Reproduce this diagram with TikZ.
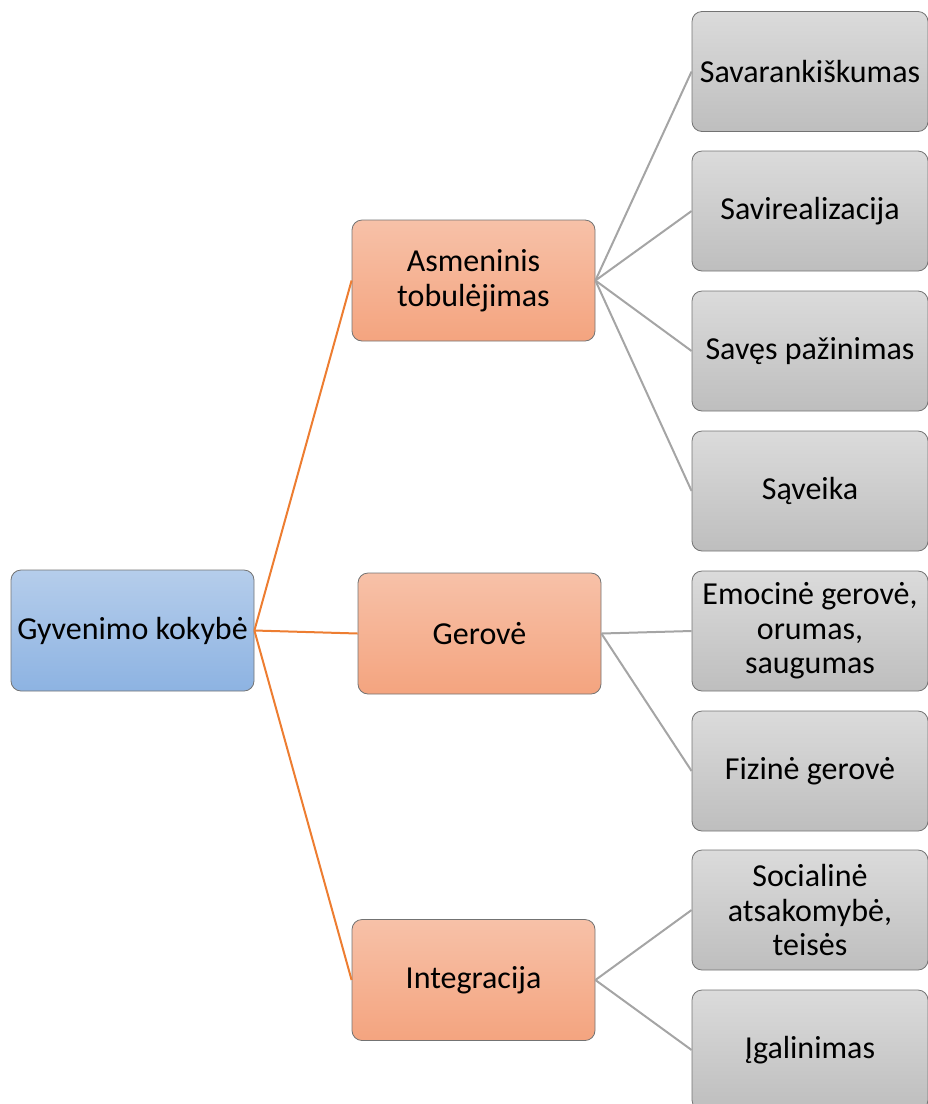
\documentclass[tikz,border=0pt]{standalone}
\usepackage{fontspec}
\setmainfont{Carlito}
\begin{document}
\begin{tikzpicture}[x=1pt,y=-1pt,
  box/.style={draw=black!55, line width=0.8pt, rounded corners=10pt, inner sep=0pt,
    align=center, font=\fontsize{32}{34.5}\selectfont, shading=axis, shading angle=0},
  rootbox/.style={box, minimum width=243pt, minimum height=121pt, top color=rootTop, bottom color=rootBot},
  midbox/.style={box, minimum width=243pt, minimum height=121pt, top color=midTop, bottom color=midBot},
  leafbox/.style={box, minimum width=236pt, minimum height=120pt, top color=leafTop, bottom color=leafBot},
  olink/.style={draw=linkOrange, line width=2pt},
  glink/.style={draw=linkGray, line width=2pt}
]
\definecolor{rootTop}{HTML}{B5CDEB}
\definecolor{rootBot}{HTML}{8DB3E2}
\definecolor{midTop}{HTML}{F7C1A8}
\definecolor{midBot}{HTML}{F4A47F}
\definecolor{leafTop}{HTML}{DBDBDB}
\definecolor{leafBot}{HTML}{BEBEBE}
\definecolor{linkOrange}{HTML}{ED7D31}
\definecolor{linkGray}{HTML}{A5A5A5}
\useasboundingbox (0,0) rectangle (928,1104);
\clip (0,0) rectangle (928,1104);

% level 0
\node[rootbox] (root) at (132.5,630.5) {Gyvenimo kokybė};
% level 1
\node[midbox] (asm) at (473.5,280.5) {Asmeninis\\tobulėjimas};
\node[midbox] (ger) at (479.5,633.5) {Gerovė};
\node[midbox] (int) at (473.5,980) {Integracija};
% level 2
\node[leafbox] (l1) at (810,71.5) {Savarankiškumas};
\node[leafbox] (l2) at (810,211) {Savirealizacija};
\node[leafbox] (l3) at (810,351) {Savęs pažinimas};
\node[leafbox] (l4) at (810,491) {Sąveika};
\node[leafbox] (l5) at (810,631) {Emocinė gerovė,\\orumas,\\saugumas};
\node[leafbox] (l6) at (810,771) {Fizinė gerovė};
\node[leafbox] (l7) at (810,910) {Socialinė\\atsakomybė,\\teisės};
\node[leafbox] (l8) at (810,1050) {Įgalinimas};

% connectors
\draw[olink] (root.east) -- (asm.west);
\draw[olink] (root.east) -- (ger.west);
\draw[olink] (root.east) -- (int.west);
\draw[glink] (asm.east) -- (l1.west);
\draw[glink] (asm.east) -- (l2.west);
\draw[glink] (asm.east) -- (l3.west);
\draw[glink] (asm.east) -- (l4.west);
\draw[glink] (ger.east) -- (l5.west);
\draw[glink] (ger.east) -- (l6.west);
\draw[glink] (int.east) -- (l7.west);
\draw[glink] (int.east) -- (l8.west);
\end{tikzpicture}
\end{document}
